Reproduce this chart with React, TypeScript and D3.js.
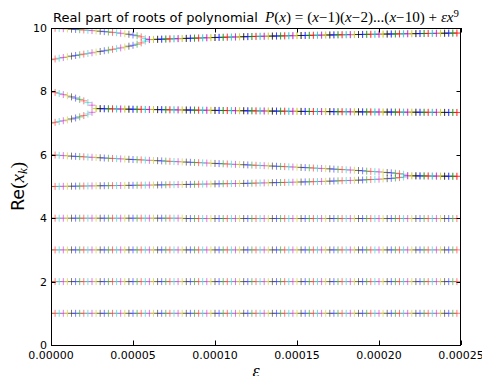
import React from 'react';
import * as d3 from 'd3';

// epsilon values, in units of 1e-6
const EPS = [
  0, 2.5, 5, 7.5, 10, 12.5, 15, 17.5, 20, 22.5,
  25, 27.5, 30, 32.5, 35, 37.5, 40, 42.5, 45, 47.5,
  50, 52.5, 55, 57.5, 60, 62.5, 65, 67.5, 70, 72.5,
  75, 77.5, 80, 82.5, 85, 87.5, 90, 92.5, 95, 97.5,
  100, 102.5, 105, 107.5, 110, 112.5, 115, 117.5, 120, 122.5,
  125, 127.5, 130, 132.5, 135, 137.5, 140, 142.5, 145, 147.5,
  150, 152.5, 155, 157.5, 160, 162.5, 165, 167.5, 170, 172.5,
  175, 177.5, 180, 182.5, 185, 187.5, 190, 192.5, 195, 197.5,
  200, 202.5, 205, 207.5, 210, 212.5, 215, 217.5, 220, 222.5,
  225, 227.5, 230, 232.5, 235, 237.5, 240, 242.5, 245, 247.5,
];

// real part of each root, one value per epsilon
const ROOT_1 = [
  1, 1, 1, 1, 1, 1, 1, 1, 1, 1, 1, 1, 1, 1, 1, 1, 1, 1, 1, 1,
  1, 1, 1, 1, 1, 1, 1, 1, 1, 1, 1, 1, 1, 1, 1, 1, 1, 1, 1, 1,
  1, 1, 1, 1, 1, 1, 1, 1, 1, 1, 1, 1, 1, 1, 1, 1, 1, 1, 1, 1,
  1, 1, 1, 1, 1, 1, 1, 1, 1, 1, 1, 1, 1, 1, 1, 1, 1, 1, 1, 1,
  1, 1, 1, 1, 1, 1, 1, 1, 1, 1, 1, 1, 1, 1, 1, 1, 1, 1, 1, 1,
];
const ROOT_2 = [
  2, 2, 2, 2, 2, 2, 2, 2, 2, 2, 2, 2, 2, 2, 2, 2, 2, 2, 2, 2,
  2, 2, 2, 2, 2, 2, 2, 2, 2, 2, 2, 2, 2, 2, 2, 2, 2, 2, 2, 2,
  2, 2, 2, 2, 2, 2, 2, 2, 2, 2, 2, 2, 2, 2, 2, 2, 2, 2, 2, 2,
  2, 2, 2, 2, 2, 2, 2, 2, 2, 2, 2, 2, 2, 2, 2, 2, 2, 2, 2, 2,
  2, 2, 2, 2, 2, 2, 2, 2, 2, 2, 2, 2, 2, 2, 2, 2, 2, 2, 2, 2,
];
const ROOT_3 = [
  3, 3, 3, 3, 3, 3, 3, 3, 3, 3, 3, 3, 3, 3, 3, 3, 3, 3, 3, 3,
  3, 3, 3, 3, 3, 3, 3, 3, 3, 3, 3, 3, 3, 3, 3, 3, 3, 3, 3, 3,
  3, 3, 3, 3, 3, 3, 3, 3, 3, 3, 3, 3, 3, 3, 3, 3, 3, 3, 3, 3,
  3, 3, 3, 3, 3, 3, 3, 3, 3, 3, 3, 3, 3, 3, 3, 3, 3, 3, 3, 3,
  3, 3, 3, 3, 3, 3, 3, 3, 3, 3, 3, 3, 3, 3, 3, 3, 3, 3, 3, 3,
];
const ROOT_4 = [
  4, 4, 4, 4, 4, 4, 4, 4, 4, 4, 4, 4, 4, 4, 4, 4, 4, 4, 4, 4,
  4, 4, 4, 4, 4, 4, 4, 4, 4, 4, 4, 4, 4, 3.99, 3.99, 3.99, 3.99, 3.99, 3.99, 3.99,
  3.99, 3.99, 3.99, 3.99, 3.99, 3.99, 3.99, 3.99, 3.99, 3.99, 3.99, 3.99, 3.99, 3.99, 3.99, 3.99, 3.99, 3.99, 3.99, 3.99,
  3.99, 3.99, 3.99, 3.99, 3.99, 3.99, 3.99, 3.99, 3.99, 3.99, 3.99, 3.99, 3.99, 3.99, 3.99, 3.99, 3.99, 3.99, 3.99, 3.99,
  3.99, 3.99, 3.99, 3.99, 3.99, 3.99, 3.99, 3.99, 3.99, 3.99, 3.99, 3.99, 3.99, 3.99, 3.99, 3.99, 3.99, 3.99, 3.99, 3.99,
];
const ROOT_5 = [
  5.000, 5.002, 5.004, 5.006, 5.008, 5.009, 5.011, 5.013, 5.015, 5.017,
  5.019, 5.021, 5.023, 5.025, 5.026, 5.028, 5.030, 5.032, 5.034, 5.036,
  5.038, 5.040, 5.041, 5.043, 5.045, 5.047, 5.049, 5.051, 5.054, 5.056,
  5.058, 5.061, 5.063, 5.065, 5.068, 5.070, 5.072, 5.075, 5.077, 5.079,
  5.082, 5.084, 5.087, 5.089, 5.091, 5.094, 5.096, 5.098, 5.101, 5.104,
  5.107, 5.110, 5.114, 5.117, 5.120, 5.123, 5.126, 5.129, 5.132, 5.136,
  5.139, 5.142, 5.145, 5.148, 5.152, 5.156, 5.160, 5.165, 5.169, 5.173,
  5.178, 5.182, 5.187, 5.191, 5.196, 5.200, 5.206, 5.213, 5.220, 5.225,
  5.231, 5.239, 5.247, 5.257, 5.268, 5.281, 5.298, 5.335, 5.338, 5.336,
  5.334, 5.333, 5.331, 5.329, 5.328, 5.326, 5.325, 5.324, 5.323, 5.322,
];
const ROOT_6 = [
  6.000, 5.992, 5.984, 5.975, 5.967, 5.958, 5.950, 5.943, 5.936, 5.928,
  5.921, 5.914, 5.906, 5.899, 5.892, 5.885, 5.878, 5.871, 5.865, 5.858,
  5.851, 5.845, 5.839, 5.832, 5.826, 5.820, 5.814, 5.807, 5.801, 5.795,
  5.788, 5.782, 5.776, 5.770, 5.764, 5.758, 5.752, 5.746, 5.740, 5.734,
  5.728, 5.722, 5.716, 5.710, 5.703, 5.698, 5.693, 5.687, 5.681, 5.675,
  5.669, 5.663, 5.657, 5.651, 5.645, 5.639, 5.633, 5.627, 5.621, 5.615,
  5.609, 5.602, 5.596, 5.590, 5.583, 5.576, 5.569, 5.563, 5.556, 5.549,
  5.542, 5.535, 5.527, 5.520, 5.513, 5.504, 5.495, 5.484, 5.476, 5.469,
  5.460, 5.451, 5.442, 5.431, 5.419, 5.404, 5.386, 5.345, 5.338, 5.336,
  5.334, 5.333, 5.331, 5.329, 5.328, 5.326, 5.325, 5.324, 5.323, 5.322,
];
const ROOT_7 = [
  7.000, 7.024, 7.049, 7.075, 7.101, 7.131, 7.162, 7.197, 7.237, 7.286,
  7.340, 7.458, 7.456, 7.453, 7.451, 7.449, 7.446, 7.444, 7.442, 7.439,
  7.437, 7.435, 7.433, 7.431, 7.430, 7.428, 7.426, 7.424, 7.422, 7.420,
  7.419, 7.417, 7.415, 7.413, 7.411, 7.409, 7.407, 7.406, 7.404, 7.402,
  7.400, 7.399, 7.397, 7.396, 7.394, 7.393, 7.391, 7.390, 7.388, 7.387,
  7.385, 7.384, 7.382, 7.381, 7.379, 7.378, 7.376, 7.375, 7.373, 7.372,
  7.370, 7.369, 7.368, 7.367, 7.366, 7.365, 7.364, 7.363, 7.362, 7.361,
  7.360, 7.359, 7.358, 7.357, 7.356, 7.355, 7.354, 7.353, 7.352, 7.351,
  7.350, 7.349, 7.348, 7.348, 7.347, 7.346, 7.345, 7.344, 7.344, 7.343,
  7.342, 7.341, 7.340, 7.340, 7.339, 7.338, 7.337, 7.336, 7.336, 7.335,
];
const ROOT_8 = [
  8.000, 7.967, 7.933, 7.899, 7.864, 7.827, 7.789, 7.748, 7.702, 7.646,
  7.565, 7.458, 7.456, 7.453, 7.451, 7.449, 7.446, 7.444, 7.442, 7.439,
  7.437, 7.435, 7.433, 7.431, 7.430, 7.428, 7.426, 7.424, 7.422, 7.420,
  7.419, 7.417, 7.415, 7.413, 7.411, 7.409, 7.407, 7.406, 7.404, 7.402,
  7.400, 7.399, 7.397, 7.396, 7.394, 7.393, 7.391, 7.390, 7.388, 7.387,
  7.385, 7.384, 7.382, 7.381, 7.379, 7.378, 7.376, 7.375, 7.373, 7.372,
  7.370, 7.369, 7.368, 7.367, 7.366, 7.365, 7.364, 7.363, 7.362, 7.361,
  7.360, 7.359, 7.358, 7.357, 7.356, 7.355, 7.354, 7.353, 7.352, 7.351,
  7.350, 7.349, 7.348, 7.348, 7.347, 7.346, 7.345, 7.344, 7.344, 7.343,
  7.342, 7.341, 7.340, 7.340, 7.339, 7.338, 7.337, 7.336, 7.336, 7.335,
];
const ROOT_9 = [
  9.000, 9.023, 9.047, 9.069, 9.092, 9.112, 9.134, 9.155, 9.176, 9.197,
  9.218, 9.239, 9.260, 9.282, 9.303, 9.326, 9.349, 9.373, 9.399, 9.426,
  9.454, 9.488, 9.530, 9.585, 9.635, 9.639, 9.643, 9.648, 9.652, 9.656,
  9.660, 9.664, 9.668, 9.672, 9.676, 9.680, 9.684, 9.688, 9.692, 9.696,
  9.700, 9.704, 9.707, 9.711, 9.714, 9.718, 9.721, 9.725, 9.728, 9.732,
  9.735, 9.738, 9.740, 9.743, 9.745, 9.748, 9.750, 9.753, 9.755, 9.758,
  9.760, 9.763, 9.765, 9.768, 9.770, 9.773, 9.775, 9.778, 9.780, 9.783,
  9.785, 9.787, 9.789, 9.791, 9.793, 9.795, 9.797, 9.799, 9.801, 9.803,
  9.805, 9.807, 9.809, 9.811, 9.813, 9.815, 9.817, 9.819, 9.821, 9.823,
  9.825, 9.827, 9.828, 9.830, 9.832, 9.833, 9.835, 9.837, 9.838, 9.840,
];
const ROOT_10 = [
  10.000, 9.992, 9.985, 9.977, 9.970, 9.962, 9.954, 9.946, 9.937, 9.927,
  9.918, 9.908, 9.898, 9.886, 9.874, 9.862, 9.850, 9.834, 9.818, 9.802,
  9.779, 9.756, 9.721, 9.665, 9.635, 9.639, 9.643, 9.648, 9.652, 9.656,
  9.660, 9.664, 9.668, 9.672, 9.676, 9.680, 9.684, 9.688, 9.692, 9.696,
  9.700, 9.704, 9.707, 9.711, 9.714, 9.718, 9.721, 9.725, 9.728, 9.732,
  9.735, 9.738, 9.740, 9.743, 9.745, 9.748, 9.750, 9.753, 9.755, 9.758,
  9.760, 9.763, 9.765, 9.768, 9.770, 9.773, 9.775, 9.778, 9.780, 9.783,
  9.785, 9.787, 9.789, 9.791, 9.793, 9.795, 9.797, 9.799, 9.801, 9.803,
  9.805, 9.807, 9.809, 9.811, 9.813, 9.815, 9.817, 9.819, 9.821, 9.823,
  9.825, 9.827, 9.828, 9.830, 9.832, 9.833, 9.835, 9.837, 9.838, 9.840,
];

const ROOTS = [ROOT_1, ROOT_2, ROOT_3, ROOT_4, ROOT_5, ROOT_6, ROOT_7, ROOT_8, ROOT_9, ROOT_10];

const X_TICKS = [0, 0.00005, 0.0001, 0.00015, 0.0002, 0.00025];
const X_TICK_LABELS = ['0.00000', '0.00005', '0.00010', '0.00015', '0.00020', '0.00025'];
const Y_TICKS = [0, 2, 4, 6, 8, 10];

// old matplotlib colour cycle; first epsilon got green
const COLORS = ['#008000', '#ff0000', '#00bfbf', '#bf00bf', '#bfbf00', '#000000', '#0000ff'];

const W = 482, H = 376;
const left = 51, right = 461, top = 28, bottom = 345;
const SANS = '"DejaVu Sans", sans-serif';
const MATH = '"Liberation Serif", "DejaVu Serif", serif';

export default function App() {
  const x = d3.scaleLinear().domain([0, 0.00025]).range([left, right]);
  const y = d3.scaleLinear().domain([0, 10]).range([bottom, top]);
  const tick = 4.5;
  const arm = 3.5;

  const markers: JSX.Element[] = [];
  EPS.forEach((e, i) => {
    const px = x(e * 1e-6);
    let d = '';
    ROOTS.forEach(r => {
      const py = y(r[i]);
      d += `M${px - arm},${py}h${arm * 2}M${px},${py - arm}v${arm * 2}`;
    });
    markers.push(
      <path key={i} d={d} fill="none" stroke={COLORS[i % COLORS.length]} strokeOpacity={0.5} strokeWidth={1} />
    );
  });

  return (
    <svg width={W} height={H} style={{ position: 'absolute', left: 0, top: 0, background: '#fff' }}>
      <defs>
        <clipPath id="plot">
          <rect x={left} y={top} width={right - left} height={bottom - top} />
        </clipPath>
      </defs>
      <rect x={0} y={0} width={W} height={H} fill="#fff" />
      <g clipPath="url(#plot)">{markers}</g>

      {/* ticks, inside on all sides */}
      <g stroke="#000" strokeWidth={1}>
        {X_TICKS.map(t => (
          <g key={'x' + t}>
            <line x1={Math.round(x(t)) + 0.5} x2={Math.round(x(t)) + 0.5} y1={bottom} y2={bottom - tick} />
            <line x1={Math.round(x(t)) + 0.5} x2={Math.round(x(t)) + 0.5} y1={top} y2={top + tick} />
          </g>
        ))}
        {Y_TICKS.map(t => (
          <g key={'y' + t}>
            <line x1={left} x2={left + tick} y1={Math.round(y(t)) + 0.5} y2={Math.round(y(t)) + 0.5} />
            <line x1={right} x2={right - tick} y1={Math.round(y(t)) + 0.5} y2={Math.round(y(t)) + 0.5} />
          </g>
        ))}
      </g>
      <rect x={left + 0.5} y={top + 0.5} width={right - left - 1} height={bottom - top} fill="none" stroke="#000" strokeWidth={1} />

      {/* tick labels */}
      <g fontFamily={SANS} fontSize={11} fill="#000">
        {X_TICKS.map((t, k) => (
          <text key={t} x={x(t)} y={bottom + 14} textAnchor="middle">{X_TICK_LABELS[k]}</text>
        ))}
        {Y_TICKS.map(t => (
          <text key={t} x={left - 4} y={y(t) + 4} textAnchor="end">{t}</text>
        ))}
      </g>

      {/* title */}
      <text x={53} y={21.5} fontFamily={SANS} fontSize={13} fill="#000">Real part of roots of polynomial</text>
      <text x={265} y={21.5} fontFamily={MATH} fontSize={14} fill="#000" textLength={194} lengthAdjust="spacingAndGlyphs">
        <tspan fontStyle="italic">P</tspan>(<tspan fontStyle="italic">x</tspan>) = (<tspan fontStyle="italic">x</tspan>−1)(<tspan fontStyle="italic">x</tspan>−2)...(<tspan fontStyle="italic">x</tspan>−10) + <tspan fontStyle="italic">εx</tspan><tspan fontSize={10} dy={-5}>9</tspan>
      </text>

      {/* axis labels */}
      <text transform={`translate(24,${(top + bottom) / 2}) rotate(-90)`} textAnchor="middle" fill="#000">
        <tspan fontFamily={SANS} fontSize={17.5}>Re</tspan>
        <tspan fontFamily={MATH} fontSize={19}>(<tspan fontStyle="italic">x</tspan><tspan fontStyle="italic" fontSize={13} dy={3}>k</tspan><tspan dy={-3}>)</tspan></tspan>
      </text>
      <text x={(left + right) / 2} y={377} textAnchor="middle" fontFamily={MATH} fontStyle="italic" fontSize={18} fill="#000">ε</text>
    </svg>
  );
}
